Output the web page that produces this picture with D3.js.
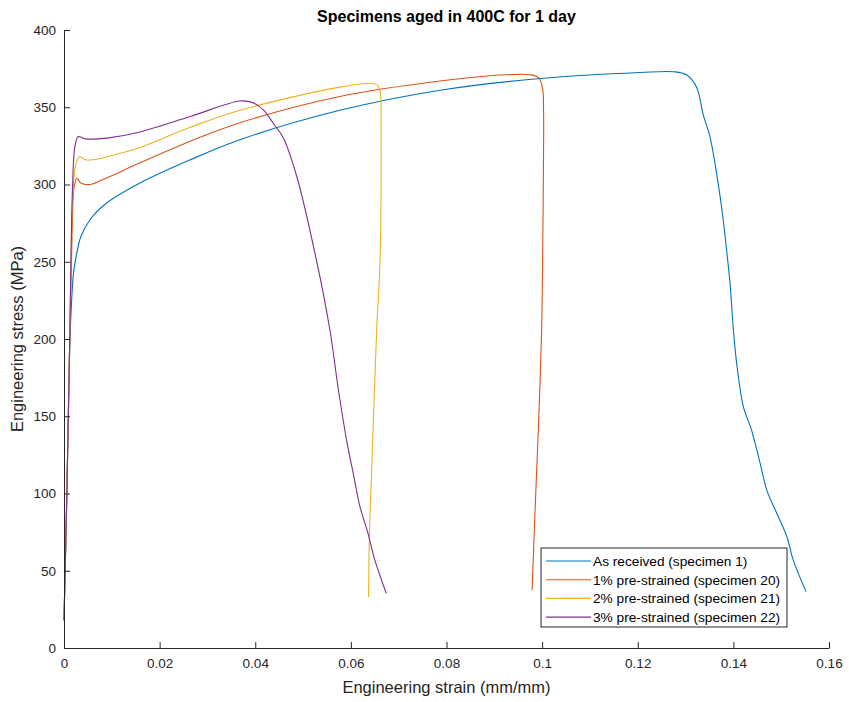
<!DOCTYPE html>
<html><head><meta charset="utf-8">
<script src="https://cdn.jsdelivr.net/npm/d3@7"></script>
<style>body{margin:0;background:#fff}svg{display:block}text{font-family:"Liberation Sans",Arial,Helvetica,sans-serif}</style>
</head><body><svg id="c" width="849" height="702"></svg>
<script>
const title = "Specimens aged in 400C for 1 day";
const xLabel = "Engineering strain (mm/mm)";
const yLabel = "Engineering stress (MPa)";
const xTicks = [0,0.02,0.04,0.06,0.08,0.1,0.12,0.14,0.16];
const yTicks = [0,50,100,150,200,250,300,350,400];
const seriesNames = ["As received (specimen 1)","1% pre-strained (specimen 20)","2% pre-strained (specimen 21)","3% pre-strained (specimen 22)"];
const seriesColors = ["#0072BD","#D95319","#EDB120","#7E2F8E"];

const strain1 = [0,0.0006,0.0012,0.0016,0.002,0.0027,0.0035,0.0054,0.0089,0.0159,0.0264,0.0368,0.0577,0.0787,0.0996,0.1205,0.1275,0.1302,0.1323,0.1337,0.1351,0.1368,0.1378,0.1386,0.1393,0.14,0.1407,0.1421,0.1438,0.1456,0.147,0.1491,0.1512,0.1525,0.1552];
const stress1 = [18,100,195,225,243,256,266,277,288,301,316,329,348,361,368.6,372.5,373,371,363,345,331,301,279,257,236,206,184,156,141,119.5,102,87,72,57,36.5];

const strain20 = [0,0.0006,0.0012,0.0017,0.0021,0.0027,0.0035,0.0054,0.008,0.0159,0.0264,0.0368,0.0577,0.0787,0.0926,0.0975,0.0993,0.1001,0.1003,0.1003,0.1001,0.0999,0.0992,0.0985,0.0979];
const stress20 = [18,100,200,270,298,304,301,300,303,314,328,340,357,367,371,371,369,362,348,322,251,206,141,87,37.5];

const strain21 = [0,0.0006,0.0012,0.0018,0.0024,0.0032,0.0045,0.0061,0.009,0.0159,0.0264,0.0368,0.0577,0.0647,0.0657,0.0662,0.0663,0.0661,0.0654,0.0644,0.0639,0.0637];
const stress21 = [18,100,200,290,312,318,316,316,318,324,337,348,363,365.4,364,358,340,251,206,119.5,76,33];

const strain22 = [0,0.0006,0.0012,0.0018,0.0023,0.003,0.0045,0.0061,0.009,0.0159,0.0264,0.0368,0.0395,0.0418,0.0438,0.0459,0.0487,0.0528,0.0556,0.0574,0.0591,0.0605,0.0619,0.0636,0.065,0.0674];
const stress22 = [18,100,200,300,325,331,329.5,329.4,330,334,344,354,353,348,339.5,330,305,251,206,167,134.6,113,91.5,74,57,35.4];

const series = [[strain1,stress1],[strain20,stress20],[strain21,stress21],[strain22,stress22]]
  .map((s,i)=>({name:seriesNames[i],color:seriesColors[i],pts:s[0].map((x,j)=>[x,s[1][j]])}));

const svg = d3.select("#c");
const L=64,R=829,T=30,B=648;
const x = d3.scaleLinear().domain([0,0.16]).range([L,R]);
const y = d3.scaleLinear().domain([0,400]).range([B,T]);
const axCol="#262626";

const line = d3.line().x(d=>x(d[0])).y(d=>y(d[1])).curve(d3.curveCatmullRom.alpha(0.5));
svg.append("g").selectAll("path").data(series).join("path")
  .attr("d",d=>line(d.pts)).attr("fill","none").attr("stroke",d=>d.color).attr("stroke-width",1.1);

const xa = svg.append("g").attr("transform",`translate(0,${B})`)
  .call(d3.axisBottom(x).tickValues(xTicks).tickFormat(d=>d3.format("~g")(d)).tickSizeInner(-6).tickSizeOuter(0).tickPadding(10));
const ya = svg.append("g").attr("transform",`translate(${L},0)`)
  .call(d3.axisLeft(y).tickValues(yTicks).tickSizeInner(-6).tickSizeOuter(0).tickPadding(8));
[xa,ya].forEach(a=>{a.selectAll("path,line").attr("stroke",axCol);a.selectAll("text").attr("fill",axCol).style("font-size","13.5px").style("font-family","'Liberation Sans',Arial,sans-serif");});

svg.append("text").attr("x",(L+R)/2).attr("y",22).attr("text-anchor","middle").style("font-size","16px").style("font-weight","bold").attr("fill","#000").text(title);
svg.append("text").attr("x",(L+R)/2).attr("y",693).attr("text-anchor","middle").style("font-size","16.5px").attr("fill",axCol).text(xLabel);
svg.append("text").attr("transform",`translate(23,${(T+B)/2}) rotate(-90)`).attr("text-anchor","middle").style("font-size","16.5px").attr("fill",axCol).text(yLabel);

const lg = svg.append("g").attr("transform","translate(541,548)");
lg.append("rect").attr("width",246).attr("height",79).attr("fill","#fff").attr("stroke",axCol).attr("stroke-width",1);
series.forEach((s,i)=>{
  const yy = 13 + i*18.7;
  lg.append("line").attr("x1",5).attr("x2",50).attr("y1",yy).attr("y2",yy).attr("stroke",s.color).attr("stroke-width",1.1);
  lg.append("text").attr("x",52).attr("y",yy+4.8).style("font-size","13.7px").attr("fill","#000").text(s.name);
});
</script></body></html>
